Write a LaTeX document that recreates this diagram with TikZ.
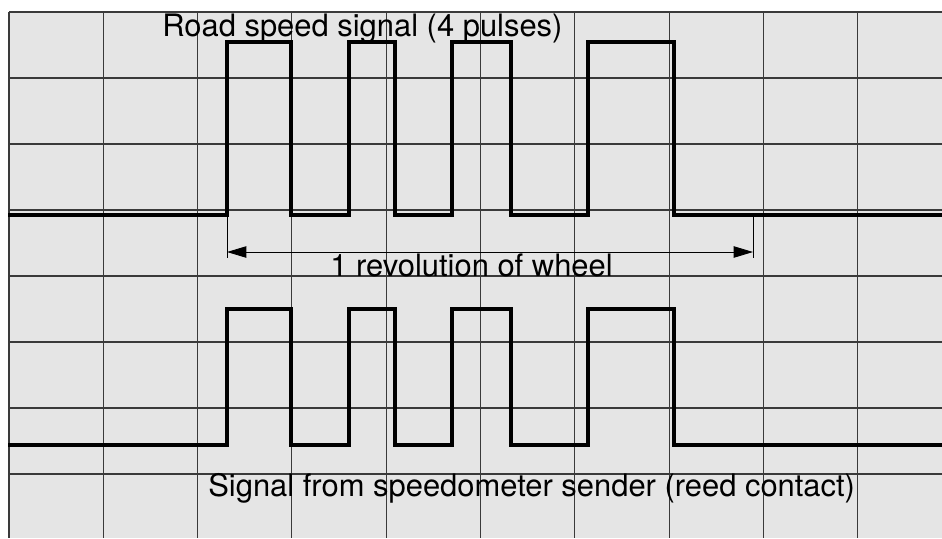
\documentclass[tikz,border=0pt]{standalone}
\usepackage{fontspec}
\setmainfont{TeX Gyre Heros}
\usetikzlibrary{arrows.meta}
\definecolor{scopeGrey}{HTML}{E5E5E5}
\definecolor{gridLine}{HTML}{3A3A3A}

\begin{document}
\begin{tikzpicture}[
    x=0.02cm, y=-0.02cm,
    font=\fontsize{17.6}{20}\selectfont,
    gridline/.style={draw=gridLine, line width=0.65pt},
    signal/.style={draw=black, line width=1.9pt, line join=miter},
    revarrow/.style={{Triangle[length=11pt,width=6.5pt]}-{Triangle[length=11pt,width=6.5pt]}, line width=0.5pt},
    label/.style={anchor=base west, inner sep=0pt}
]
    \useasboundingbox (0,0) rectangle (942,538);
    \fill[scopeGrey] (9,12) rectangle (942,538);
    \foreach \i in {0,...,9} {
        \draw[gridline] (9+94.3*\i, 12) -- (9+94.3*\i, 538);
    }
    \foreach \j in {0,...,7} {
        \draw[gridline] (9, 12+66*\j) -- (942, 12+66*\j);
    }

    \draw[signal] (8,215)
        \foreach \a/\b in {227/291,349/395,452/511,588/674} { -- (\a,215) -- (\a,42) -- (\b,42) -- (\b,215) }
        -- (942,215);
    \draw[signal] (8,445)
        \foreach \a/\b in {227/291,349/395,452/511,588/674} { -- (\a,445) -- (\a,309) -- (\b,309) -- (\b,445) }
        -- (942,445);

    \coordinate (revL) at (227,252);
    \coordinate (revR) at (753,252);
    \draw[line width=0.5pt] (revL) ++(0,-36) -- ++(0,42);
    \draw[line width=0.5pt] (revR) ++(0,-36) -- ++(0,42);
    \draw[revarrow] (revL) -- (revR);

    \node[label] (roadSig) at (162,36) {Road speed signal (4 pulses)};
    \node[label] (revText) at (330,276) {1 revolution of wheel};
    \node[label] (senderSig) at (208,496) {Signal from speedometer sender (reed contact)};
\end{tikzpicture}
\end{document}
